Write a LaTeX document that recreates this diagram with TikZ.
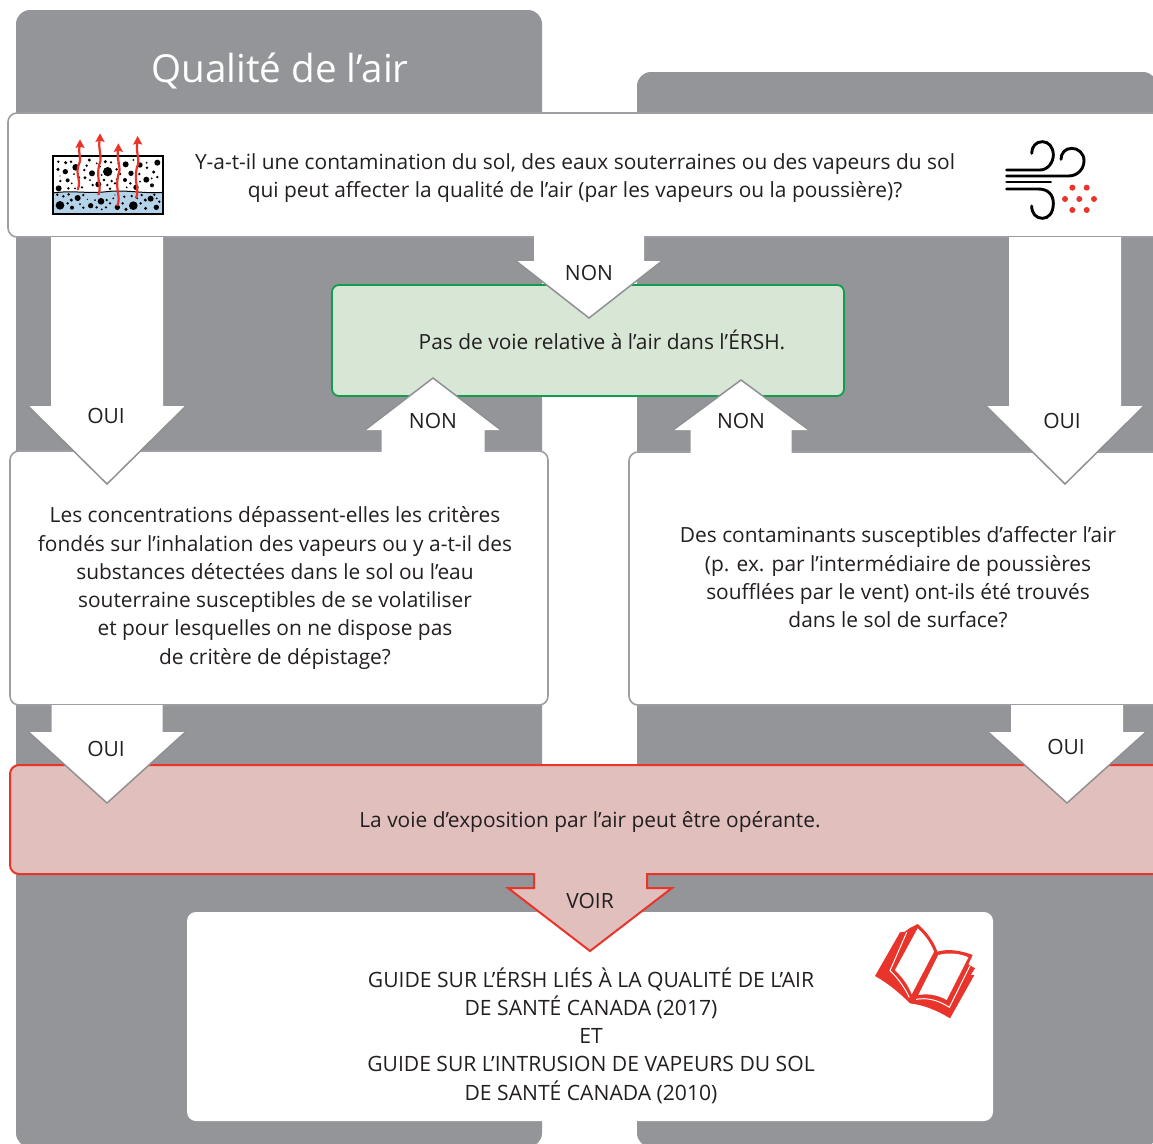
\documentclass[tikz,border=0pt]{standalone}
\usepackage{fontspec}
\setmainfont{Open Sans}
\definecolor{panel}{HTML}{939598}
\definecolor{ink}{HTML}{231F20}
\definecolor{edge}{HTML}{9C9EA1}
\definecolor{headedge}{HTML}{8F9092}
\definecolor{gfill}{HTML}{D8E6D6}
\definecolor{gline}{HTML}{119C50}
\definecolor{rfill}{HTML}{E0BFBC}
\definecolor{rline}{HTML}{E8342A}
\definecolor{water}{HTML}{B4D2E8}
\tikzset{
  panelbox/.style={fill=panel,rounded corners=14},
  whitebox/.style={draw=edge,line width=1.6pt,fill=white,rounded corners=9},
  body/.style={text=ink,align=center,font=\fontsize{20.9}{28.25}\selectfont,inner sep=0pt},
  guidetext/.style={text=ink,align=center,font=\fontsize{21.1}{28.25}\selectfont,inner sep=0pt},
  lab/.style={text=ink,font=\fontsize{21}{24}\selectfont,inner sep=0pt},
}
\newcommand{\blockarr}[6]{% tipx tipy headhalf shafthalf heady basey
  \path[fill=white] (#1-#4,#6) -- (#1-#4,#5) -- (#1-#3,#5) -- (#1,#2) -- (#1+#3,#5) -- (#1+#4,#5) -- (#1+#4,#6) -- cycle;
  \draw[headedge,line width=1.5pt] (#1-#3,#5) -- (#1,#2) -- (#1+#3,#5);
}
\begin{document}
\begin{tikzpicture}[x=1pt,y=-1pt]
\useasboundingbox (0,0) rectangle (1153,1143);
\clip (0,0) rectangle (1153,1143);
% panels
\path[panelbox] (16,1147) -- (16,10) -- (542,10) -- (542,1147) -- cycle;
\path[panelbox] (637,1147) -- (637,72) -- (1157,72) -- (1157,1147) -- cycle;
\node[text=white,font=\fontsize{38.6}{44}\selectfont,inner sep=0pt] (title) at (280,70.5) {Qualité de l’air};
% boxes
\path[whitebox] (1175,113) -- (8,113) -- (8,237) -- (1175,237) -- cycle;
\path[whitebox] (10,451) rectangle (548,705);
\path[whitebox] (629,452) rectangle (1175,705);
\path[fill=white,rounded corners=9] (187,912) rectangle (993,1121);
\path[draw=gline,fill=gfill,line width=1.8pt,rounded corners=7] (332,285) rectangle (844,396);
\draw[draw=rline,fill=rfill,line width=2pt] (534,874) [rounded corners=9] -- (10,874) -- (10,765) -- (1175,765) -- (1175,874) [sharp corners] -- (647,874) -- (647,888) -- (672,888) -- (590,951) -- (508,888) -- (534,888) -- cycle;
% block arrows
\blockarr{107}{484}{79}{56}{406}{237}
\blockarr{589}{318}{73}{55}{261}{236}
\blockarr{1065}{484}{79}{56}{406}{237}
\blockarr{433}{378}{68}{51.5}{430}{454}
\blockarr{741}{380}{68}{50.5}{430}{454}
\blockarr{107}{803}{78.5}{55.5}{732}{705}
\blockarr{1067}{803}{79}{56}{732}{705}
% texts
\node[body] (q1) at (575,178) {Y-a-t-il une contamination du sol, des eaux souterraines ou des vapeurs du sol\\qui peut affecter la qualité de l’air (par les vapeurs ou la poussière)?};
\node[body] (q2) at (275,588) {Les concentrations dépassent-elles les critères\\fondés sur l’inhalation des vapeurs ou y a-t-il des\\substances détectées dans le sol ou l’eau\\souterraine susceptibles de se volatiliser\\et pour lesquelles on ne dispose pas\\de critère de dépistage?};
\node[body] (q3) at (898,577.5) {Des contaminants susceptibles d’affecter l’air\\(p. ex. par l’intermédiaire de poussières\\soufflées par le vent) ont-ils été trouvés\\dans le sol de surface?};
\node[body] (green) at (602,340) {Pas de voie relative à l’air dans l’ÉRSH.};
\node[body] (red) at (590,822) {La voie d’exposition par l’air peut être opérante.};
\node[guidetext] (guide) at (591,1035.5) {GUIDE SUR L’ÉRSH LIÉS À LA QUALITÉ DE L’AIR\\DE SANTÉ CANADA (2017)\\ET\\GUIDE SUR L’INTRUSION DE VAPEURS DU SOL\\DE SANTÉ CANADA (2010)};
\node[lab] (n1) at (589,273) {NON};
\node[lab] (o1) at (106,416) {OUI};
\node[lab] (n2) at (433,421) {NON};
\node[lab] (n3) at (741,421) {NON};
\node[lab] (o2) at (1062,421) {OUI};
\node[lab] (o3) at (106,749) {OUI};
\node[lab] (o4) at (1066,747) {OUI};
\node[lab] (v) at (590,901) {VOIR};
% soil icon
\begin{scope}[shift={(0,100)},scale=1/3]
\fill[fill=water] (158,279) .. controls (220,270) and (260,282) .. (320,275) .. controls (380,268) and (430,282) .. (490,277) -- (490,342) -- (158,342) -- cycle;
\draw[black,line width=1pt] (158,279) .. controls (220,270) and (260,282) .. (320,275) .. controls (380,268) and (430,282) .. (490,277);
\foreach \x/\y/\r in {175/185/4,197/188/5,213/185/4,268/180/5,316/185/5,333/187/4,377/193/9,420/195/8,472/188/9,174/208/5,196/215/8,227/202/10,260/197/4,253/210/4,276/220/9,323/215/14,350/208/4,360/222/4,393/220/8,441/203/4,461/216/5,472/231/4,181/243/4,203/241/6,237/232/4,255/233/5,295/253/9,312/240/4,335/243/4,375/240/6,391/250/4,439/239/9,176/265/9,205/265/4,246/262/4,278/255/4,322/255/4,330/266/4,345/250/4,408/262/8,456/256/6,418/222/4,
222/222/3,300/200/3,305/225/3,290/190/3,355/190/3,400/180/3,440/188/3,215/250/3,270/240/3,350/238/3,455/235/3,420/245/3,180/228/2,380/262/3,225/265/3,
172/284/4,190/289/4,206/283/4,233/294/9,250/285/4,214/300/5,203/310/4,180/316/13,216/323/6,250/323/4,272/317/8,290/322/4,303/304/10,320/300/4,318/322/4,330/310/4,352/322/8,378/328/5,368/310/4,373/290/4,400/317/13,395/288/4,425/285/4,422/310/4,436/300/5,452/296/9,437/325/5,469/322/8,463/284/4,478/305/4,
285/300/3,340/295/3,262/298/2,345/285/2,412/295/3,470/295/3,240/312/3,305/328/3}
  \fill[black] (\x,\y) circle (\r);
\draw[black,line width=1.9pt] (158,168) rectangle (490,342);
\foreach \a/\b/\c/\d in {233/270/240/118,295/285/300/100,352/318/355/130,408/295/413/108}{
  \draw[rline,line width=2.2pt] (\a,\b) .. controls (\a+12,\b-30) and (\a-8,\b-45) .. (\a+3,{(\b+\d)/2}) .. controls (\a+14,{(\b+\d)/2-20}) and (\c-8,\d+45) .. (\c,\d+16);
  \fill[rline] (\c,\d) -- (\c+14,\d+26) -- (\c,\d+22) -- (\c-14,\d+26) -- cycle;
}
\end{scope}
% wind icon
\begin{scope}[shift={(980,120)},scale=1/3]
\draw[black,line width=2.9pt,line cap=round]
  (80,150) -- (180,150) .. controls (205,150) and (220,125) .. (220,105) .. controls (220,80) and (205,65) .. (187,65) .. controls (168,65) and (155,80) .. (155,100);
\draw[black,line width=2.9pt,line cap=round]
  (80,168) -- (265,168) .. controls (295,168) and (312,145) .. (312,122) .. controls (312,100) and (295,85) .. (275,85) .. controls (255,85) and (243,100) .. (243,118);
\draw[black,line width=2.9pt,line cap=round] (80,186) -- (212,186);
\draw[black,line width=2.9pt,line cap=round]
  (80,207) -- (175,207) .. controls (205,207) and (220,225) .. (220,250) .. controls (220,280) and (205,295) .. (187,295) .. controls (168,295) and (155,280) .. (155,258);
\foreach \x/\y in {277/203,320/203,255/237,298/237,342/237,277/270,320/270}
  \fill[rline] (\x,\y) circle (9);
\end{scope}
% book icon
\begin{scope}[shift={(850,900)},scale=1/3]
\fill[rline] (75,228) -- (150,97) -- (165,95) -- (178,85) -- (203,72) .. controls (230,95) and (252,125) .. (262,155) .. controls (295,145) and (335,152) .. (368,165) -- (355,193) -- (375,205) -- (362,225) -- (373,225) -- (300,355) .. controls (260,330) and (220,315) .. (180,310) .. controls (150,280) and (115,250) .. (75,228) -- cycle;
\fill[white] (203,85) .. controls (225,105) and (243,130) .. (252,155) -- (185,283) .. controls (175,255) and (155,230) .. (135,210) -- cycle;
\fill[white] (265,165) .. controls (295,157) and (330,160) .. (355,172) -- (290,300) .. controls (265,285) and (235,280) .. (205,285) -- cycle;
\draw[white,line width=1pt] (170,97) -- (120,212) .. controls (145,235) and (165,265) .. (178,292);
\draw[white,line width=1pt] (360,197) -- (298,322) .. controls (265,300) and (230,292) .. (198,298);
\end{scope}
\end{tikzpicture}
\end{document}
